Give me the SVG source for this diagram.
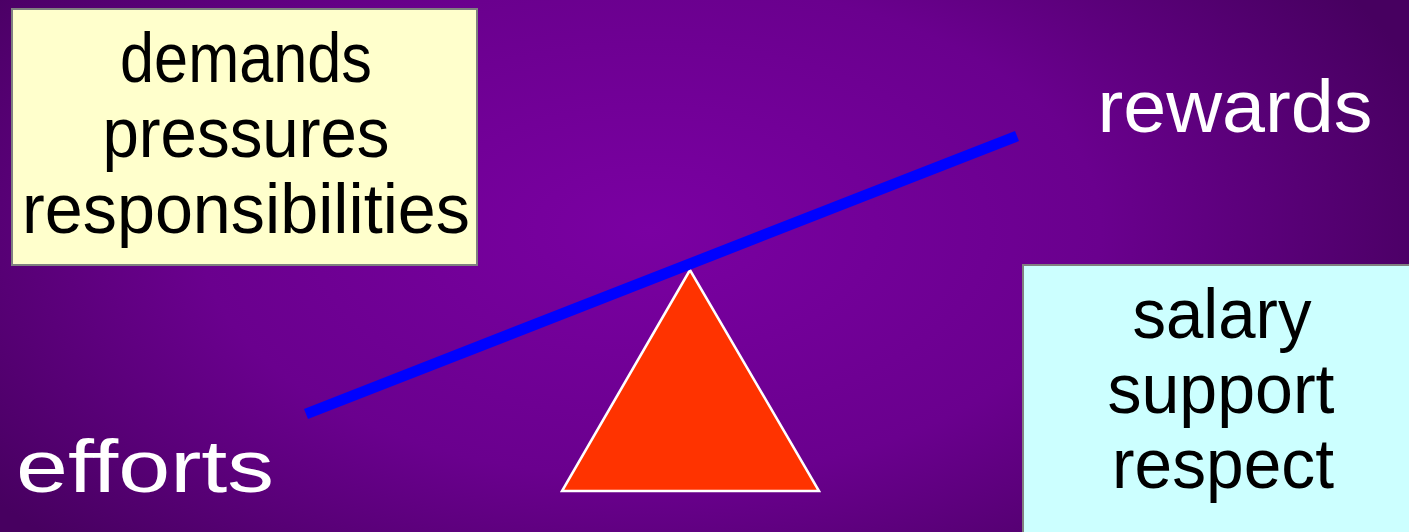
<svg xmlns="http://www.w3.org/2000/svg" width="1409" height="532" viewBox="0 0 1409 532">
  <defs>
    <radialGradient id="bg" cx="650" cy="230" r="820" gradientUnits="userSpaceOnUse" gradientTransform="translate(650 230) scale(1 0.55) translate(-650 -230)">
      <stop offset="0" stop-color="#7a00a2"/>
      <stop offset="0.55" stop-color="#6a008e"/>
      <stop offset="1" stop-color="#470060"/>
    </radialGradient>
    <style>
      .t { font-family: "Liberation Sans", "DejaVu Sans", sans-serif; font-size: 71px; text-anchor: middle; }
      .lbl { font-size: 74px; }
      .dark { fill: #000000; }
      .light { fill: #ffffff; }
      .box { stroke: #808080; stroke-width: 2; }
    </style>
  </defs>
  <rect x="0" y="0" width="1409" height="532" fill="url(#bg)"/>

  <g id="demands-box">
    <rect class="box" x="12" y="9" width="465" height="256" fill="#ffffcc"/>
    <text class="t dark" x="246" y="82" textLength="252" lengthAdjust="spacingAndGlyphs">demands</text>
    <text class="t dark" x="246" y="157" textLength="287" lengthAdjust="spacingAndGlyphs">pressures</text>
    <text class="t dark" x="246" y="233" textLength="448" lengthAdjust="spacingAndGlyphs">responsibilities</text>
  </g>

  <g id="rewards-box">
    <rect class="box" x="1023" y="265" width="400" height="280" fill="#ccffff"/>
    <text class="t dark" x="1222" y="338" textLength="179" lengthAdjust="spacingAndGlyphs">salary</text>
    <text class="t dark" x="1221" y="413" textLength="227" lengthAdjust="spacingAndGlyphs">support</text>
    <text class="t dark" x="1223" y="488" textLength="222" lengthAdjust="spacingAndGlyphs">respect</text>
  </g>

  <g id="rewards-label">
    <text class="t lbl light" x="1235" y="132" textLength="275" lengthAdjust="spacingAndGlyphs">rewards</text>
  </g>

  <g id="efforts-label">
    <text class="t lbl light" x="145" y="492" textLength="258" lengthAdjust="spacingAndGlyphs">efforts</text>
  </g>

  <g id="fulcrum">
    <polygon points="690,270 562,491 819,491" fill="#ff3300" stroke="#ffffff" stroke-width="2.5"/>
  </g>

  <g id="connectors">
    <line x1="306" y1="414" x2="1017" y2="136" stroke="#0000ff" stroke-width="11"/>
  </g>
</svg>
